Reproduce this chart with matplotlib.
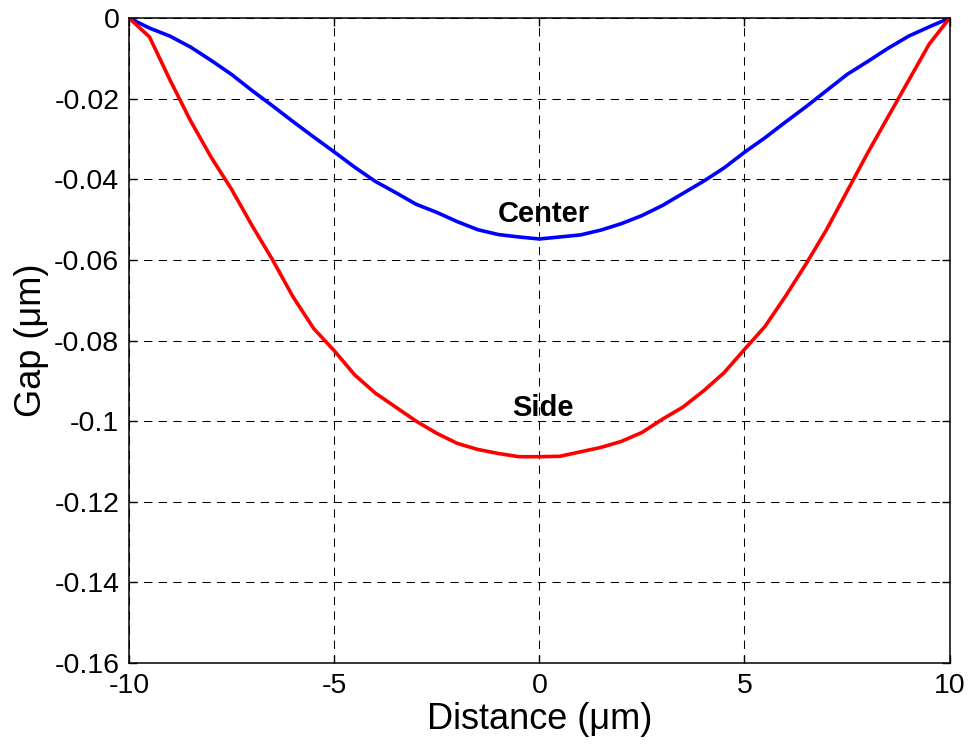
import numpy as np
import matplotlib
matplotlib.use("Agg")
import matplotlib.pyplot as plt

plt.rcParams['font.family'] = ['Liberation Sans', 'DejaVu Sans']
plt.rcParams['axes.unicode_minus'] = False
plt.rcParams['lines.scale_dashes'] = False

# Distance along the beam (um)
distance = np.arange(-10, 10.01, 0.5)

# Gap for the centre line (um)
gap_center = [0.0, -0.0025, -0.0045, -0.0072, -0.0105, -0.0140, -0.0180, -0.0218,
              -0.0257, -0.0295, -0.0332, -0.0370, -0.0405, -0.0433, -0.0462, -0.0482,
              -0.0505, -0.0525, -0.0537, -0.0543, -0.0548, -0.0543, -0.0538, -0.0526,
              -0.0510, -0.0490, -0.0465, -0.0435, -0.0405, -0.0372, -0.0333, -0.0297,
              -0.0258, -0.0220, -0.0180, -0.0140, -0.0108, -0.0075, -0.0045, -0.0022, 0.0]

# Gap for the side line (um)
gap_side = [0.0, -0.0047, -0.0154, -0.0255, -0.0345, -0.0425, -0.0515, -0.0600,
            -0.0692, -0.0770, -0.0825, -0.0885, -0.0930, -0.0965, -0.1000, -0.1030,
            -0.1055, -0.1070, -0.1080, -0.1088, -0.1088, -0.1087, -0.1076, -0.1065,
            -0.1050, -0.1028, -0.0995, -0.0965, -0.0925, -0.0880, -0.0822, -0.0765,
            -0.0690, -0.0610, -0.0525, -0.0430, -0.0335, -0.0245, -0.0155, -0.0065, 0.0]

xticks = [-10, -5, 0, 5, 10]
yticks = [0, -0.02, -0.04, -0.06, -0.08, -0.1, -0.12, -0.14, -0.16]
ytick_labels = ['0', '-0.02', '-0.04', '-0.06', '-0.08', '-0.1', '-0.12', '-0.14', '-0.16']

fig = plt.figure(figsize=(9.7, 7.51), dpi=100)
ax = fig.add_axes([0.133, 0.117, 0.846, 0.859])

ax.plot(distance, gap_center, color='#0000ff', lw=2.6)
ax.plot(distance, gap_side, color='#ff0000', lw=2.6)

ax.text(0.1, -0.0485, 'Center', ha='center', va='center', fontsize=21, fontweight='bold')
ax.text(0.1, -0.0968, 'Side', ha='center', va='center', fontsize=21, fontweight='bold')

ax.set_xlim(-10, 10)
ax.set_ylim(-0.16, 0)
ax.set_xticks(xticks)
ax.set_xticklabels([str(v) for v in xticks])
ax.set_yticks(yticks)
ax.set_yticklabels(ytick_labels)

ax.grid(True, color='black', linestyle=(0, (6, 4.5)), lw=0.75)
ax.tick_params(direction='in', length=6, width=1, top=True, right=True,
               labelsize=20.5, pad=7)
for s in ax.spines.values():
    s.set_linewidth(1.1)

ax.set_xlabel('Distance (μm)', fontsize=26, labelpad=2)
ax.set_ylabel('Gap (μm)', fontsize=26, labelpad=4)

fig.savefig('out.png', dpi=100)
